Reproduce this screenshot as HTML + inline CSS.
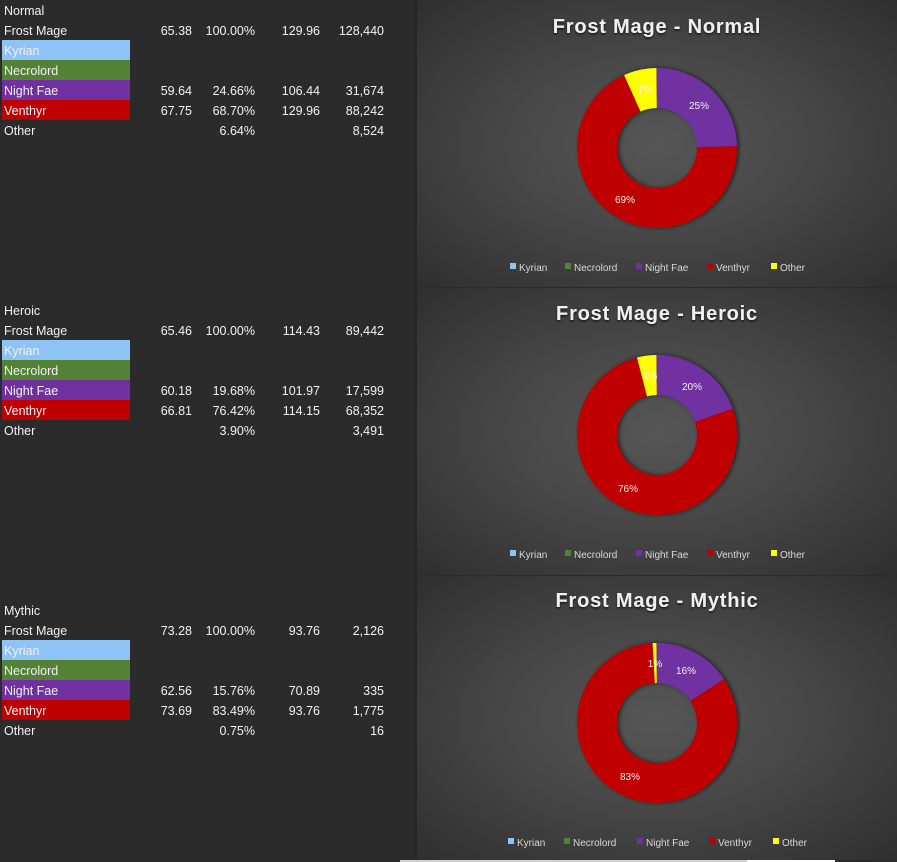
<!DOCTYPE html>
<html><head><meta charset="utf-8"><style>
body{margin:0;width:897px;height:862px;background:#2b2b2b;overflow:hidden;position:relative;font-family:"Liberation Sans",sans-serif;}
.t{position:absolute;color:#f2f2f2;font-size:12.5px;line-height:20px;white-space:nowrap;margin-top:1px}
.r{text-align:right}
.band{position:absolute;left:2px;width:128px;height:20px}
.panel{position:absolute;left:417px;width:480px;background:radial-gradient(ellipse at 50% 50%,#565656 0%,#474747 45%,#2f2f2f 100%)}
</style></head><body>
<div style="position:absolute;left:415px;top:0;width:2px;height:862px;background:#262626"></div>

<div class="band" style="top:40px;background:#8ec3f6"></div>
<div class="band" style="top:60px;background:#538135"></div>
<div class="band" style="top:80px;background:#7030a0"></div>
<div class="band" style="top:100px;background:#c00000"></div>
<div class="band" style="top:340px;background:#8ec3f6"></div>
<div class="band" style="top:360px;background:#538135"></div>
<div class="band" style="top:380px;background:#7030a0"></div>
<div class="band" style="top:400px;background:#c00000"></div>
<div class="band" style="top:640px;background:#8ec3f6"></div>
<div class="band" style="top:660px;background:#538135"></div>
<div class="band" style="top:680px;background:#7030a0"></div>
<div class="band" style="top:700px;background:#c00000"></div>

<div class="t" style="left:4px;top:0">Normal</div>
<div class="t" style="left:4px;top:20px">Frost Mage</div>
<div class="t" style="left:4px;top:40px">Kyrian</div>
<div class="t" style="left:4px;top:60px">Necrolord</div>
<div class="t" style="left:4px;top:80px">Night Fae</div>
<div class="t" style="left:4px;top:100px">Venthyr</div>
<div class="t" style="left:4px;top:120px">Other</div>
<div class="t r" style="right:705px;top:20px">65.38</div><div class="t r" style="right:642px;top:20px">100.00%</div><div class="t r" style="right:577px;top:20px">129.96</div><div class="t r" style="right:513px;top:20px">128,440</div>
<div class="t r" style="right:705px;top:80px">59.64</div><div class="t r" style="right:642px;top:80px">24.66%</div><div class="t r" style="right:577px;top:80px">106.44</div><div class="t r" style="right:513px;top:80px">31,674</div>
<div class="t r" style="right:705px;top:100px">67.75</div><div class="t r" style="right:642px;top:100px">68.70%</div><div class="t r" style="right:577px;top:100px">129.96</div><div class="t r" style="right:513px;top:100px">88,242</div>
<div class="t r" style="right:642px;top:120px">6.64%</div><div class="t r" style="right:513px;top:120px">8,524</div>

<div class="t" style="left:4px;top:300px">Heroic</div>
<div class="t" style="left:4px;top:320px">Frost Mage</div>
<div class="t" style="left:4px;top:340px">Kyrian</div>
<div class="t" style="left:4px;top:360px">Necrolord</div>
<div class="t" style="left:4px;top:380px">Night Fae</div>
<div class="t" style="left:4px;top:400px">Venthyr</div>
<div class="t" style="left:4px;top:420px">Other</div>
<div class="t r" style="right:705px;top:320px">65.46</div><div class="t r" style="right:642px;top:320px">100.00%</div><div class="t r" style="right:577px;top:320px">114.43</div><div class="t r" style="right:513px;top:320px">89,442</div>
<div class="t r" style="right:705px;top:380px">60.18</div><div class="t r" style="right:642px;top:380px">19.68%</div><div class="t r" style="right:577px;top:380px">101.97</div><div class="t r" style="right:513px;top:380px">17,599</div>
<div class="t r" style="right:705px;top:400px">66.81</div><div class="t r" style="right:642px;top:400px">76.42%</div><div class="t r" style="right:577px;top:400px">114.15</div><div class="t r" style="right:513px;top:400px">68,352</div>
<div class="t r" style="right:642px;top:420px">3.90%</div><div class="t r" style="right:513px;top:420px">3,491</div>

<div class="t" style="left:4px;top:600px">Mythic</div>
<div class="t" style="left:4px;top:620px">Frost Mage</div>
<div class="t" style="left:4px;top:640px">Kyrian</div>
<div class="t" style="left:4px;top:660px">Necrolord</div>
<div class="t" style="left:4px;top:680px">Night Fae</div>
<div class="t" style="left:4px;top:700px">Venthyr</div>
<div class="t" style="left:4px;top:720px">Other</div>
<div class="t r" style="right:705px;top:620px">73.28</div><div class="t r" style="right:642px;top:620px">100.00%</div><div class="t r" style="right:577px;top:620px">93.76</div><div class="t r" style="right:513px;top:620px">2,126</div>
<div class="t r" style="right:705px;top:680px">62.56</div><div class="t r" style="right:642px;top:680px">15.76%</div><div class="t r" style="right:577px;top:680px">70.89</div><div class="t r" style="right:513px;top:680px">335</div>
<div class="t r" style="right:705px;top:700px">73.69</div><div class="t r" style="right:642px;top:700px">83.49%</div><div class="t r" style="right:577px;top:700px">93.76</div><div class="t r" style="right:513px;top:700px">1,775</div>
<div class="t r" style="right:642px;top:720px">0.75%</div><div class="t r" style="right:513px;top:720px">16</div>

<div class="panel" style="top:0;height:287px"></div>
<div class="panel" style="top:288px;height:287px"></div>
<div class="panel" style="top:576px;height:284px"></div>
<div style="position:absolute;left:400px;top:860px;width:347px;height:2px;background:#d0d0d0"></div>
<div style="position:absolute;left:747px;top:860px;width:88px;height:2px;background:#fff"></div>

<svg width="897" height="862" style="position:absolute;left:0;top:0" font-family="Liberation Sans, sans-serif">
<defs>
<filter id="sh" x="-20%" y="-20%" width="140%" height="140%"><feDropShadow dx="0" dy="2" stdDeviation="2" flood-color="#000" flood-opacity="0.55"/></filter>
<filter id="ts"><feDropShadow dx="0" dy="1.5" stdDeviation="1" flood-color="#000" flood-opacity="0.7"/></filter>
</defs>
<g fill="#f0f0f0" font-weight="bold" font-size="20" text-anchor="middle" filter="url(#ts)" letter-spacing="0.8">
<text x="657" y="33">Frost Mage - Normal</text>
<text x="657" y="320">Frost Mage - Heroic</text>
<text x="657" y="607">Frost Mage - Mythic</text>
</g>

<g transform="translate(657,148) rotate(-90)" fill="none" stroke-width="40" filter="url(#sh)">
<circle r="60" pathLength="100" stroke="#7030a0" stroke-dasharray="24.66 75.34" stroke-dashoffset="0"/>
<circle r="60" pathLength="100" stroke="#c00000" stroke-dasharray="68.70 31.30" stroke-dashoffset="-24.66"/>
<circle r="60" pathLength="100" stroke="#ffff00" stroke-dasharray="6.64 93.36" stroke-dashoffset="-93.36"/>
</g>
<g transform="translate(657,435) rotate(-90)" fill="none" stroke-width="40" filter="url(#sh)">
<circle r="60" pathLength="100" stroke="#7030a0" stroke-dasharray="19.68 80.32" stroke-dashoffset="0"/>
<circle r="60" pathLength="100" stroke="#c00000" stroke-dasharray="76.42 23.58" stroke-dashoffset="-19.68"/>
<circle r="60" pathLength="100" stroke="#ffff00" stroke-dasharray="3.90 96.10" stroke-dashoffset="-96.10"/>
</g>
<g transform="translate(657,723) rotate(-90)" fill="none" stroke-width="40" filter="url(#sh)">
<circle r="60" pathLength="100" stroke="#7030a0" stroke-dasharray="15.76 84.24" stroke-dashoffset="0"/>
<circle r="60" pathLength="100" stroke="#c00000" stroke-dasharray="83.49 16.51" stroke-dashoffset="-15.76"/>
<circle r="60" pathLength="100" stroke="#ffff00" stroke-dasharray="0.75 99.25" stroke-dashoffset="-99.25"/>
</g>

<g fill="#f2f2f2" font-size="10" text-anchor="middle">
<text x="699" y="109">25%</text><text x="625" y="203">69%</text><text x="645" y="93">7%</text>
<text x="692" y="390">20%</text><text x="628" y="492">76%</text><text x="650" y="379">4%</text>
<text x="686" y="674">16%</text><text x="630" y="780">83%</text><text x="655" y="667">1%</text>
</g>

<g font-size="10" fill="#d9d9d9">
<g>
<rect x="510" y="263" width="6" height="6" fill="#8ec3f6"/><text x="519" y="271">Kyrian</text>
<rect x="565" y="263" width="6" height="6" fill="#538135"/><text x="574" y="271">Necrolord</text>
<rect x="636" y="263" width="6" height="6" fill="#7030a0"/><text x="645" y="271">Night Fae</text>
<rect x="707" y="263" width="6" height="6" fill="#c00000"/><text x="716" y="271">Venthyr</text>
<rect x="771" y="263" width="6" height="6" fill="#ffff00"/><text x="780" y="271">Other</text>
</g>
<g transform="translate(0,287)">
<rect x="510" y="263" width="6" height="6" fill="#8ec3f6"/><text x="519" y="271">Kyrian</text>
<rect x="565" y="263" width="6" height="6" fill="#538135"/><text x="574" y="271">Necrolord</text>
<rect x="636" y="263" width="6" height="6" fill="#7030a0"/><text x="645" y="271">Night Fae</text>
<rect x="707" y="263" width="6" height="6" fill="#c00000"/><text x="716" y="271">Venthyr</text>
<rect x="771" y="263" width="6" height="6" fill="#ffff00"/><text x="780" y="271">Other</text>
</g>
<g transform="translate(0,575)">
<rect x="508" y="263" width="6" height="6" fill="#8ec3f6"/><text x="517" y="271">Kyrian</text>
<rect x="564" y="263" width="6" height="6" fill="#538135"/><text x="573" y="271">Necrolord</text>
<rect x="637" y="263" width="6" height="6" fill="#7030a0"/><text x="646" y="271">Night Fae</text>
<rect x="709" y="263" width="6" height="6" fill="#c00000"/><text x="718" y="271">Venthyr</text>
<rect x="773" y="263" width="6" height="6" fill="#ffff00"/><text x="782" y="271">Other</text>
</g>
</g>
</svg>
</body></html>
